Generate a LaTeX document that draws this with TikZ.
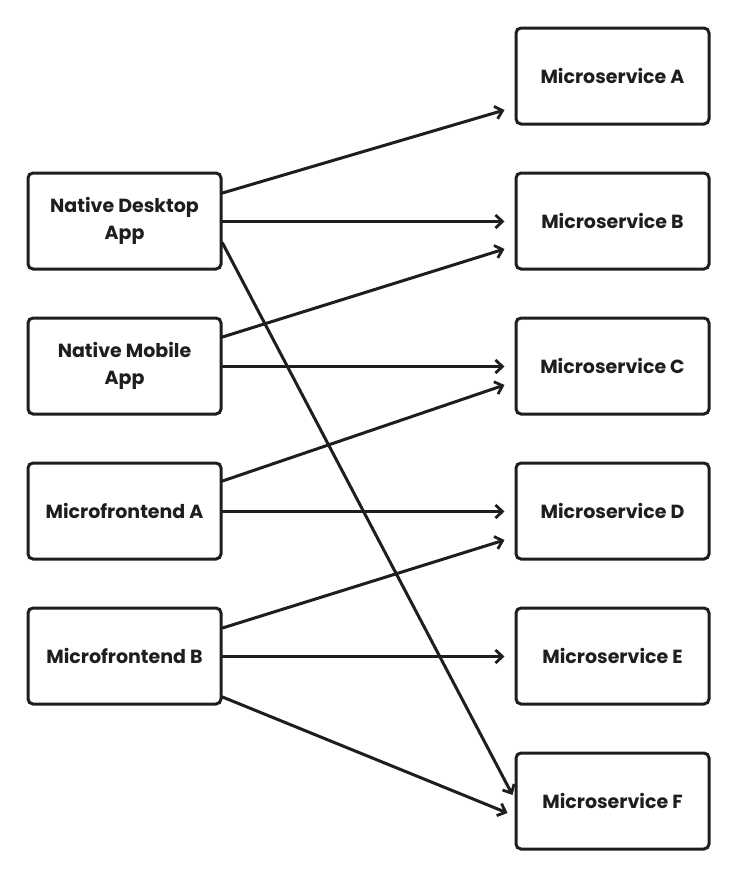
\documentclass[tikz,border=0pt]{standalone}
\usepackage{fontspec}
\setmainfont{Poppins}[UprightFont=* Bold]
\usetikzlibrary{arrows.meta}
\definecolor{ink}{HTML}{1E1E1E}
\tikzset{
  box/.style={draw=ink, line width=3pt, rounded corners=5pt, minimum width=193pt, minimum height=96pt, align=center, text=ink, font=\fontsize{19}{27}\selectfont, fill=white},
  conn/.style={draw=ink, line width=3pt, -{Straight Barb[length=7pt,width=13pt,line width=2.8pt]}, line cap=round}
}
\begin{document}
\begin{tikzpicture}[x=1pt,y=-1pt]
\fill[white] (0,0) rectangle (740,878);
\useasboundingbox (0,0) rectangle (740,878);
% left
\node[box] (desk) at (124.5,221) {Native Desktop\\App};
\node[box] (mob) at (124.5,366) {Native Mobile\\App};
\node[box] (mfa) at (124.5,511) {Microfrontend A};
\node[box] (mfb) at (124.5,656) {Microfrontend B};
% right
\node[box] (msa) at (612.5,76) {Microservice A};
\node[box] (msb) at (612.5,221) {Microservice B};
\node[box] (msc) at (612.5,366) {Microservice C};
\node[box] (msd) at (612.5,511) {Microservice D};
\node[box] (mse) at (612.5,656) {Microservice E};
\node[box] (msf) at (612.5,801) {Microservice F};
% connectors
\draw[conn] ([yshift=28pt]desk.east) -- ([xshift=-10pt,yshift=-34pt]msa.west);
\draw[conn] ([yshift=-0.5pt]desk.east) -- ([xshift=-10pt,yshift=-0.5pt]msb.west);
\draw[conn] ([yshift=-22pt]desk.east) -- ([xshift=-2pt,yshift=6pt]msf.west);
\draw[conn] ([yshift=29pt]mob.east) -- ([xshift=-10pt,yshift=-28pt]msb.west);
\draw[conn] ([yshift=-0.5pt]mob.east) -- ([xshift=-10pt,yshift=-0.5pt]msc.west);
\draw[conn] ([yshift=30pt]mfa.east) -- ([xshift=-10pt,yshift=-19pt]msc.west);
\draw[conn] ([yshift=-0.5pt]mfa.east) -- ([xshift=-10pt,yshift=-0.5pt]msd.west);
\draw[conn] ([yshift=28pt]mfb.east) -- ([xshift=-10pt,yshift=-29pt]msd.west);
\draw[conn] ([yshift=-0.5pt]mfb.east) -- ([xshift=-10pt,yshift=-0.5pt]mse.west);
\draw[conn] ([yshift=-41pt]mfb.east) -- ([xshift=-7pt,yshift=-12pt]msf.west);
\end{tikzpicture}
\end{document}
